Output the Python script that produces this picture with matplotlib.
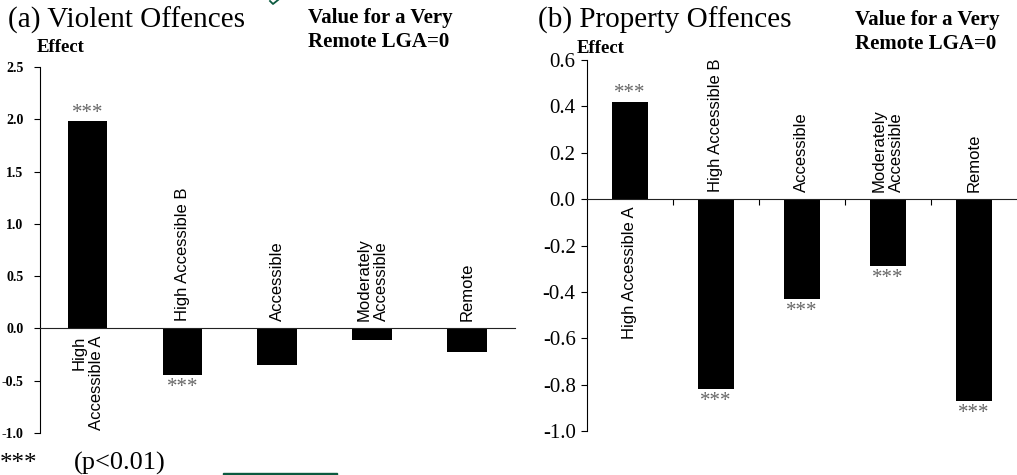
import matplotlib
matplotlib.use("Agg")
import matplotlib.pyplot as plt
from matplotlib.patches import Rectangle
from matplotlib.lines import Line2D

# data
violent_labels = ["High\nAccessible A", "High Accessible B", "Accessible",
                  "Moderately\nAccessible", "Remote"]
violent_values = [1.98, -0.45, -0.35, -0.11, -0.23]
violent_sig = [True, True, False, False, False]
violent_ticks = [-1.0, -0.5, 0.0, 0.5, 1.0, 1.5, 2.0, 2.5]

property_labels = ["High Accessible A", "High Accessible B", "Accessible",
                   "Moderately\nAccessible", "Remote"]
property_values = [0.42, -0.82, -0.43, -0.29, -0.87]
property_sig = [True, True, True, True, True]
property_ticks = [-1.0, -0.8, -0.6, -0.4, -0.2, 0.0, 0.2, 0.4, 0.6]

SERIF = "Liberation Serif"
SANS = "Liberation Sans"
GREEN = "#0b5a3f"

plt.rcParams["font.family"] = [SERIF, "DejaVu Serif"]

fig = plt.figure(figsize=(10.17, 4.75), dpi=100)


def bar_panel(ax, labels, values, sig, ticks, zero_ticks):
    x = list(range(len(values)))
    ax.bar(x, values, width=0.42, color="black", zorder=2)
    ax.set_xlim(-0.5, len(values) - 0.5)
    ax.set_ylim(ticks[0], ticks[-1])
    ax.set_yticks(ticks)
    ax.set_yticklabels([f"{t:.1f}" for t in ticks])
    ax.tick_params(axis="y", direction="out", length=4, width=0.8)

    for s in ["top", "right"]:
        ax.spines[s].set_visible(False)
    ax.spines["left"].set_linewidth(0.8)
    ax.spines["bottom"].set_position(("data", 0))
    ax.spines["bottom"].set_linewidth(0.8)
    ax.spines["bottom"].set_color("#222222")
    ax.set_xticks([i + 0.5 for i in x[:-1]])
    ax.set_xticklabels([])
    ax.tick_params(axis="x", direction="out", length=4 if zero_ticks else 0,
                   width=0.8)

    for i, (lab, v, s) in enumerate(zip(labels, values, sig)):
        if v > 0:
            ax.annotate(lab, (i, 0), xytext=(0, -5), textcoords="offset points",
                        rotation=90, ha="center", va="top",
                        multialignment="right", family=SANS, fontsize=12)
            if s:
                ax.annotate("***", (i, v), xytext=(0, -1),
                            textcoords="offset points", ha="center",
                            va="bottom", fontsize=15, color="#666666")
        else:
            ax.annotate(lab, (i, 0), xytext=(0, 5), textcoords="offset points",
                        rotation=90, ha="center", va="bottom",
                        multialignment="left", family=SANS, fontsize=12)
            if s:
                ax.annotate("***", (i, v), xytext=(0, -2),
                            textcoords="offset points", ha="center",
                            va="top", fontsize=15, color="#666666")


ax1 = fig.add_axes([0.0393, 0.0884, 0.467, 0.7706])
bar_panel(ax1, violent_labels, violent_values, violent_sig, violent_ticks,
          False)
ax1.tick_params(axis="y", pad=8)
for t in ax1.get_yticklabels():
    t.set_fontfamily(SERIF)
    t.set_fontsize(10)
    t.set_fontweight("bold")

ax2 = fig.add_axes([0.577, 0.0926, 0.4228, 0.7811])
bar_panel(ax2, property_labels, property_values, property_sig, property_ticks,
          True)
ax2.tick_params(axis="y", pad=4)
for t in ax2.get_yticklabels():
    t.set_fontfamily(SERIF)
    t.set_fontsize(15)

# titles and notes
fig.text(8 / 1017, 1 - 28 / 475, "(a) Violent Offences", fontsize=21,
         va="baseline")
fig.text(538 / 1017, 1 - 28 / 475, "(b) Property Offences", fontsize=21,
         va="baseline")
fig.text(37 / 1017, 1 - 52 / 475, "Effect", fontsize=13.5,
         fontweight="bold", va="baseline")
fig.text(577 / 1017, 1 - 53 / 475, "Effect", fontsize=13.5,
         fontweight="bold", va="baseline")
fig.text(308 / 1017, 1 - 47 / 475, "Value for a Very\nRemote LGA=0",
         fontsize=15, fontweight="bold", va="baseline", linespacing=1.25)
fig.text(855 / 1017, 1 - 49 / 475, "Value for a Very\nRemote LGA=0",
         fontsize=15, fontweight="bold", va="baseline", linespacing=1.25)
fig.text(0, 1 - 470 / 475, "***", fontsize=18, va="baseline")
fig.text(74 / 1017, 1 - 470 / 475, "(p<0.01)", fontsize=19, va="baseline")

# bits of the page around the figure (cut-off glyph and rule in green)
fig.add_artist(Line2D([270 / 1017, 273 / 1017, 278 / 1017],
                      [1 - 1 / 475, 1 - 4 / 475, 1 - 0 / 475],
                      transform=fig.transFigure, color=GREEN, lw=1.3))
fig.patches.append(Rectangle((223 / 1017, 0), 114 / 1017, 2.5 / 475,
                             transform=fig.transFigure, color=GREEN,
                             figure=fig))

fig.savefig("out.png", dpi=100)
